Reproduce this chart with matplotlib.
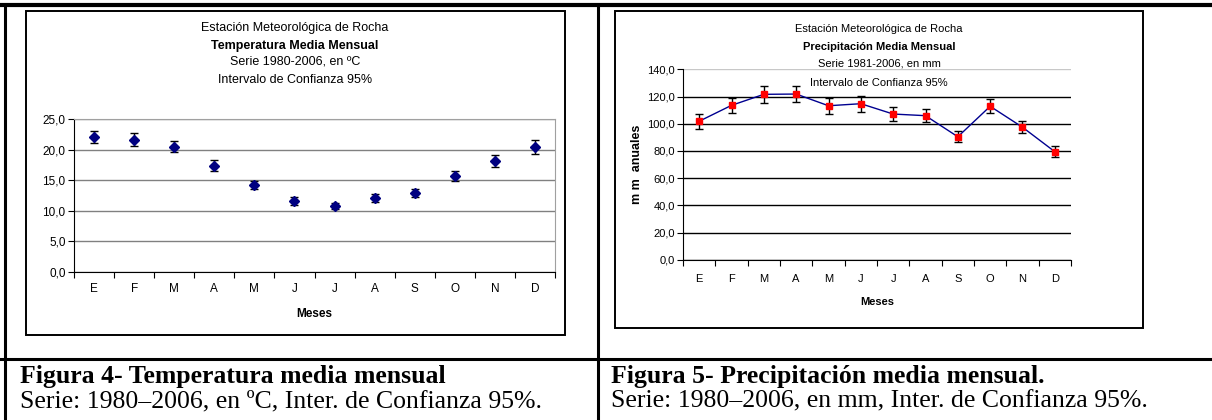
import matplotlib
matplotlib.use("Agg")
import matplotlib.pyplot as plt
from matplotlib.lines import Line2D
from matplotlib.patches import Rectangle
from matplotlib.ticker import FuncFormatter, FixedLocator
import numpy as np

W, H = 1212, 420

months = ["E", "F", "M", "A", "M", "J", "J", "A", "S", "O", "N", "D"]
temp_mean = [22.1, 21.6, 20.5, 17.4, 14.2, 11.6, 10.8, 12.1, 12.9, 15.7, 18.1, 20.4]
temp_ci = [1.0, 1.05, 0.95, 0.9, 0.7, 0.6, 0.5, 0.65, 0.7, 0.8, 0.95, 1.1]
prec_mean = [101.8, 113.5, 121.6, 121.8, 113.2, 114.7, 107.1, 105.9, 90.4, 112.8, 97.4, 79.4]
prec_ci = [5.4, 5.3, 6.2, 6.2, 5.7, 5.8, 5.2, 4.8, 4.0, 5.2, 4.4, 3.9]

temp_titles = ["Estación Meteorológica de Rocha", "Temperatura Media Mensual",
               "Serie 1980-2006, en ºC", "Intervalo de Confianza 95%"]
prec_titles = ["Estación Meteorológica de Rocha", "Precipitación Media Mensual",
               "Serie 1981-2006, en mm", "Intervalo de Confianza 95%"]
captions = [("Figura 4- Temperatura media mensual",
             "Serie: 1980–2006, en ºC, Inter. de Confianza 95%."),
            ("Figura 5- Precipitación media mensual.",
             "Serie: 1980–2006, en mm, Inter. de Confianza 95%.")]

SANS = ["Liberation Sans", "DejaVu Sans"]
SERIF = ["Liberation Serif", "DejaVu Serif"]


def fx(px):
    return px / W


def fy(py):
    return 1 - py / H


def box(x0, y0, x1, y1):
    return [fx(x0), fy(y1), fx(x1) - fx(x0), fy(y0) - fy(y1)]


fig = plt.figure(figsize=(W / 100, H / 100), dpi=100)
fig.patch.set_facecolor("white")

# table lines
for xs, ys, lw in [((0, W), (5, 5), 3.0), ((5, 5), (5, H), 2.2),
                   ((598, 598), (5, H), 2.2), ((0, W), (359, 359), 2.2)]:
    fig.add_artist(Line2D([fx(x) for x in xs], [fy(y) for y in ys],
                          color="black", lw=lw, transform=fig.transFigure))

# chart frames
for x0, y0, x1, y1 in [(26, 11, 565, 335), (615, 11, 1143, 328)]:
    fig.add_artist(Rectangle((fx(x0), fy(y1)), fx(x1) - fx(x0), fy(y0) - fy(y1),
                             fill=False, ec="black", lw=1.4,
                             transform=fig.transFigure))


def setup_axis(ax, ylim, step, fsize, tick_len, xpad):
    x = np.arange(len(months))
    ax.set_xlim(-0.5, len(months) - 0.5)
    ax.set_ylim(*ylim)
    ax.xaxis.set_major_locator(FixedLocator(np.arange(-0.5, len(months), 1)))
    ax.xaxis.set_minor_locator(FixedLocator(x))
    ax.set_xticklabels([])
    ax.set_xticklabels(months, minor=True, family=SANS, fontsize=fsize)
    ax.tick_params(axis="x", which="major", direction="out", length=tick_len, width=0.8)
    ax.tick_params(axis="x", which="minor", length=0, pad=xpad)
    ax.set_yticks(np.arange(ylim[0], ylim[1] + 0.01, step))
    ax.yaxis.set_major_formatter(FuncFormatter(lambda v, p: f"{v:.1f}".replace(".", ",")))
    for lab in ax.get_yticklabels():
        lab.set_family(SANS)
        lab.set_fontsize(fsize)
    ax.tick_params(axis="y", direction="out", length=tick_len, width=0.8, pad=2)
    ax.spines["left"].set_color("black")
    ax.spines["bottom"].set_color("black")
    ax.set_axisbelow(True)


# ---- Temperature chart
ax1 = fig.add_axes(box(74, 119, 555, 272))
setup_axis(ax1, (0, 25), 5, 8.5, 4, 8)
ax1.yaxis.grid(True, color="#808080", lw=1.0)
ax1.spines["top"].set_color("#a0a0a0")
ax1.spines["right"].set_color("#a0a0a0")
ax1.errorbar(np.arange(len(months)), temp_mean, yerr=temp_ci, fmt="D",
             color="#000080", ms=5.5, ecolor="black", elinewidth=1.0,
             capsize=3, capthick=1.0, zorder=3)
ax1.set_xlabel("Meses", family=SANS, fontsize=8.5, fontweight="bold", labelpad=9)

for i, (t, yy) in enumerate(zip(temp_titles, [28, 46, 62, 80])):
    fig.text(fx(295), fy(yy), t, ha="center", va="center", family=SANS,
             fontsize=9, fontweight="bold" if i == 1 else "normal")

# ---- Precipitation chart
ax2 = fig.add_axes(box(683, 69.3, 1071, 259.7))
setup_axis(ax2, (0, 140), 20, 8, 4, 10)
ax2.yaxis.grid(True, color="black", lw=1.0)
ax2.spines["top"].set_visible(False)
ax2.spines["right"].set_visible(False)
ax2.yaxis.get_gridlines()[-1].set_color("#c8c8c8")
ax2.errorbar(np.arange(len(months)), prec_mean, yerr=prec_ci, fmt="-s",
             color="#000090", lw=1.0, ms=4, mfc="red", mec="red",
             ecolor="black", elinewidth=1.0, capsize=3, capthick=1.0, zorder=3)
ax2.set_xlabel("Meses", family=SANS, fontsize=8, fontweight="bold", labelpad=10)
ax2.set_ylabel("m m  anuales", family=SANS, fontsize=9, fontweight="bold", labelpad=3)

for i, (t, yy) in enumerate(zip(prec_titles, [29, 47, 63, 83])):
    fig.text(fx(879), fy(yy), t, ha="center", va="center", family=SANS,
             fontsize=8, fontweight="bold" if i == 1 else "normal", zorder=5)

# ---- captions
for x0, (c1, c2) in zip([20, 611], captions):
    fig.text(fx(x0), fy(376), c1, ha="left", va="center", family=SERIF,
             fontsize=18.5, fontweight="bold")
    fig.text(fx(x0), fy(401), c2, ha="left", va="center", family=SERIF,
             fontsize=18.5)

fig.savefig("out.png", dpi=100)
